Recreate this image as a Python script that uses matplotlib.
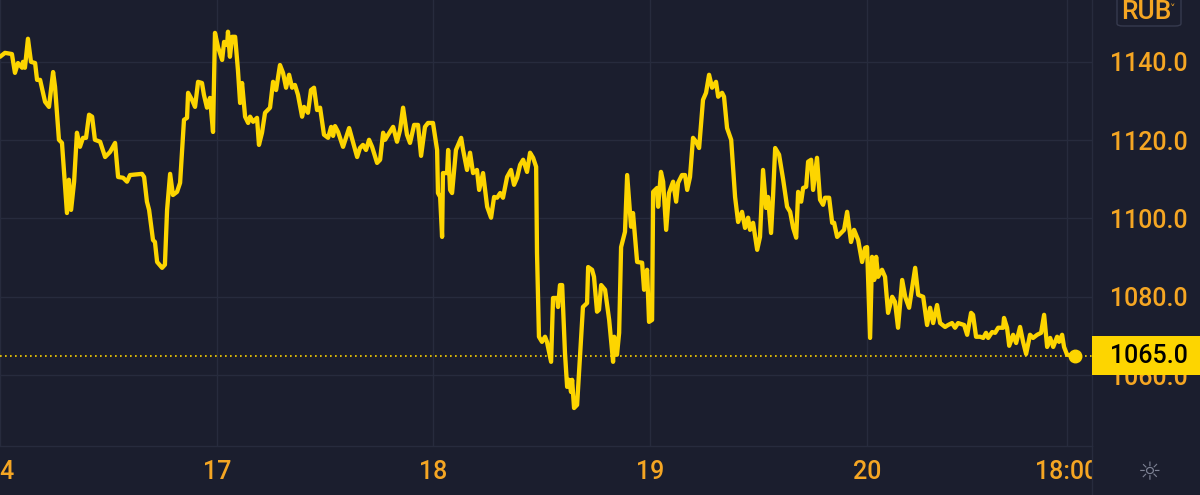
import matplotlib
matplotlib.use("Agg")
import matplotlib.pyplot as plt
from matplotlib.patches import Rectangle, FancyBboxPatch
from matplotlib.transforms import blended_transform_factory
from matplotlib.lines import Line2D

# time axis in trading sessions counted from the 14th (17 -> 1, 18 -> 2, ...)
t = [0.000, 0.023, 0.055, 0.069, 0.083, 0.102, 0.106, 0.115, 0.129, 0.143,
     0.162, 0.171, 0.185, 0.208, 0.226, 0.245, 0.254, 0.272, 0.286, 0.309,
     0.318, 0.328, 0.342, 0.355, 0.369, 0.383, 0.397, 0.411, 0.425, 0.438,
     0.462, 0.485, 0.508, 0.531, 0.545, 0.568, 0.586, 0.600, 0.655, 0.665,
     0.678, 0.688, 0.706, 0.715, 0.725, 0.748, 0.761, 0.771, 0.785, 0.798,
     0.817, 0.831, 0.849, 0.863, 0.868, 0.886, 0.900, 0.914, 0.932, 0.941,
     0.955, 0.969, 0.983, 0.992, 1.006, 1.025, 1.034, 1.048, 1.052, 1.061,
     1.071, 1.085, 1.098, 1.108, 1.117, 1.131, 1.145, 1.154, 1.168, 1.186,
     1.195, 1.209, 1.223, 1.246, 1.260, 1.274, 1.292, 1.306, 1.320, 1.334,
     1.348, 1.361, 1.375, 1.394, 1.403, 1.421, 1.435, 1.449, 1.463, 1.477,
     1.495, 1.514, 1.528, 1.537, 1.546, 1.560, 1.583, 1.611, 1.648, 1.661,
     1.675, 1.689, 1.703, 1.717, 1.740, 1.754, 1.768, 1.777, 1.791, 1.814,
     1.832, 1.846, 1.860, 1.878, 1.892, 1.911, 1.929, 1.943, 1.961, 1.975,
     1.998, 2.017, 2.021, 2.031, 2.040, 2.044, 2.063, 2.068, 2.077, 2.086,
     2.104, 2.128, 2.137, 2.155, 2.169, 2.183, 2.201, 2.211, 2.229, 2.248,
     2.266, 2.280, 2.294, 2.308, 2.321, 2.340, 2.358, 2.372, 2.386, 2.400,
     2.414, 2.432, 2.446, 2.460, 2.474, 2.478, 2.487, 2.501, 2.515, 2.524,
     2.543, 2.552, 2.571, 2.575, 2.584, 2.594, 2.607, 2.617, 2.626, 2.635,
     2.640, 2.649, 2.663, 2.690, 2.709, 2.714, 2.732, 2.741, 2.755, 2.764,
     2.774, 2.792, 2.811, 2.829, 2.834, 2.847, 2.857, 2.866, 2.884, 2.894,
     2.912, 2.921, 2.940, 2.963, 2.972, 2.986, 2.995, 3.009, 3.014, 3.032,
     3.037, 3.050, 3.060, 3.074, 3.087, 3.106, 3.120, 3.129, 3.147, 3.161,
     3.171, 3.184, 3.198, 3.212, 3.226, 3.244, 3.258, 3.272, 3.286, 3.304,
     3.314, 3.332, 3.341, 3.355, 3.374, 3.392, 3.406, 3.424, 3.438, 3.452,
     3.461, 3.475, 3.494, 3.507, 3.521, 3.535, 3.544, 3.558, 3.567, 3.577,
     3.595, 3.614, 3.632, 3.646, 3.660, 3.674, 3.683, 3.697, 3.706, 3.720,
     3.729, 3.743, 3.752, 3.770, 3.784, 3.798, 3.807, 3.826, 3.840, 3.849,
     3.863, 3.886, 3.895, 3.909, 3.927, 3.941, 3.960, 3.978, 3.992, 4.001,
     4.015, 4.024, 4.034, 4.043, 4.052, 4.070, 4.084, 4.098, 4.117, 4.130,
     4.144, 4.163, 4.177, 4.195, 4.223, 4.237, 4.260, 4.278, 4.292, 4.306,
     4.324, 4.338, 4.361, 4.375, 4.393, 4.407, 4.421, 4.449, 4.463, 4.481,
     4.490, 4.504, 4.523, 4.537, 4.550, 4.560, 4.578, 4.592, 4.606, 4.629,
     4.633, 4.647, 4.657, 4.675, 4.689, 4.707, 4.721, 4.735, 4.753, 4.767,
     4.786, 4.804, 4.818, 4.832, 4.846, 4.860, 4.878, 4.887, 4.901, 4.910,
     4.924, 4.952]

price = [1141.3, 1142.3, 1142.0, 1137.2, 1139.7, 1138.5, 1140.0, 1138.5, 1145.9, 1140.0,
         1139.7, 1135.4, 1135.4, 1129.8, 1128.5, 1137.4, 1133.6, 1120.1, 1119.3, 1101.4,
         1109.9, 1102.2, 1109.4, 1121.9, 1118.3, 1120.6, 1120.6, 1126.5, 1126.0, 1120.1,
         1119.6, 1115.7, 1117.0, 1119.3, 1110.6, 1110.4, 1109.4, 1111.1, 1111.4, 1110.6,
         1104.3, 1102.2, 1094.5, 1094.0, 1088.9, 1087.4, 1088.2, 1102.2, 1111.4, 1106.0,
         1106.8, 1109.1, 1125.2, 1125.7, 1132.1, 1130.3, 1128.5, 1134.9, 1134.6, 1131.6,
         1128.3, 1130.8, 1122.1, 1147.4, 1143.8, 1140.5, 1145.1, 1144.3, 1147.7, 1141.3,
         1146.4, 1146.4, 1137.9, 1129.5, 1134.6, 1126.0, 1124.4, 1126.0, 1124.7, 1125.7,
         1118.8, 1121.9, 1127.0, 1128.3, 1134.9, 1132.8, 1139.2, 1137.2, 1133.4, 1136.7,
         1133.4, 1134.1, 1131.6, 1126.0, 1128.5, 1127.0, 1132.8, 1133.4, 1127.7, 1128.3,
         1121.4, 1120.6, 1123.4, 1121.1, 1123.6, 1122.1, 1118.3, 1123.1, 1115.7, 1118.0,
         1118.8, 1117.5, 1120.1, 1118.3, 1114.2, 1115.0, 1121.9, 1120.1, 1121.4, 1123.4,
         1119.6, 1122.6, 1128.3, 1121.4, 1119.3, 1123.9, 1123.9, 1116.0, 1123.4, 1124.4,
         1124.4, 1117.5, 1106.5, 1105.5, 1095.3, 1111.6, 1111.6, 1117.5, 1107.3, 1106.5,
         1117.5, 1120.6, 1117.5, 1112.4, 1116.8, 1111.6, 1112.4, 1107.3, 1111.6, 1103.0,
         1100.2, 1105.5, 1105.3, 1106.5, 1105.3, 1110.6, 1112.4, 1108.6, 1110.4, 1113.7,
         1115.0, 1111.9, 1116.8, 1115.5, 1113.2, 1091.2, 1069.8, 1068.5, 1069.8, 1068.5,
         1063.4, 1079.7, 1079.7, 1077.4, 1083.0, 1083.0, 1065.7, 1057.0, 1058.8, 1055.7,
         1058.8, 1051.6, 1052.4, 1077.4, 1078.4, 1087.6, 1086.9, 1085.1, 1076.2, 1076.7,
         1083.0, 1081.8, 1074.1, 1063.4, 1069.8, 1065.2, 1070.8, 1092.7, 1096.6, 1111.1,
         1097.9, 1101.4, 1088.9, 1088.7, 1081.8, 1086.9, 1073.6, 1074.1, 1106.8, 1107.8,
         1103.0, 1111.9, 1109.4, 1097.1, 1106.5, 1109.4, 1104.3, 1109.1, 1111.1, 1111.1,
         1107.3, 1110.6, 1120.6, 1119.6, 1118.0, 1130.3, 1132.1, 1136.7, 1133.4, 1134.9,
         1131.1, 1132.1, 1131.1, 1123.1, 1120.1, 1105.5, 1099.1, 1101.7, 1097.6, 1100.2,
         1097.1, 1098.9, 1092.0, 1095.3, 1112.4, 1102.7, 1105.5, 1096.3, 1105.5, 1118.0,
         1116.3, 1109.9, 1103.0, 1101.7, 1097.6, 1095.1, 1106.8, 1104.3, 1107.8, 1108.1,
         1114.5, 1115.0, 1107.3, 1115.5, 1104.8, 1103.5, 1105.3, 1105.3, 1098.9, 1098.9,
         1095.3, 1096.6, 1097.1, 1101.7, 1094.0, 1097.1, 1094.5, 1088.9, 1092.5, 1092.7,
         1069.5, 1090.2, 1084.3, 1090.2, 1085.1, 1086.9, 1085.1, 1075.9, 1080.0, 1078.7,
         1072.1, 1084.3, 1080.0, 1077.2, 1087.4, 1080.5, 1080.0, 1072.8, 1077.2, 1073.3,
         1077.9, 1073.3, 1072.3, 1072.8, 1073.3, 1072.1, 1073.3, 1072.8, 1070.3, 1075.9,
         1075.4, 1069.8, 1069.8, 1069.5, 1070.8, 1069.5, 1071.0, 1070.8, 1072.1, 1072.1,
         1074.6, 1072.1, 1067.5, 1070.3, 1068.2, 1072.3, 1068.5, 1065.4, 1070.3, 1069.5,
         1070.3, 1070.8, 1075.4, 1067.2, 1069.5, 1067.2, 1069.8, 1068.5, 1070.3, 1067.2,
         1065.2, 1065.0]

last_price = 1065.0
currency = "RUB"
y_ticks = [1060, 1080, 1100, 1120, 1140]
x_ticks = [0, 1, 2, 3, 4, 4.924]
x_labels = ["14", "17", "18", "19", "20", "18:00"]

bg = "#1b1e2e"
grid_c = "#272b3d"
orange = "#f5a623"
yellow = "#fdd500"

plt.rcParams["font.family"] = ["Roboto", "DejaVu Sans"]

fig = plt.figure(figsize=(12, 4.95), dpi=100, facecolor=bg)
ax = fig.add_axes([0, 49 / 495, 1092 / 1200, 446 / 495], facecolor=bg)

ax.plot(t, price, color=yellow, lw=3.1, solid_joinstyle="round", solid_capstyle="round")
ax.plot(t[-1] + 0.01, price[-1], "o", ms=9, color=yellow)
ax.axhline(last_price, color=yellow, lw=1.2, ls=(0, (1, 2)))

ax.set_xlim(0, 5.039)
ax.set_ylim(1041.9, 1155.8)

ax.yaxis.tick_right()
ax.set_yticks(y_ticks)
ax.set_yticklabels([f"{v:.1f}" for v in y_ticks])
ax.set_xticks(x_ticks)
ax.set_xticklabels(x_labels)
ax.tick_params(axis="y", length=0, pad=13, labelsize=18, labelcolor=orange)
ax.tick_params(axis="x", length=0, pad=10, labelsize=18, labelcolor=orange)
for lab in ax.get_xticklabels() + ax.get_yticklabels():
    lab.set_fontweight("medium")

ax.grid(color=grid_c, lw=1)
for side in ["top", "left"]:
    ax.spines[side].set_visible(False)
for side in ["bottom", "right"]:
    ax.spines[side].set_color(grid_c)
    ax.spines[side].set_linewidth(1)

# corner panel under the price scale hides the end of the time labels
corner = fig.add_axes([1093 / 1200, 0, 107 / 1200, 48 / 495], zorder=10)
corner.set_axis_off()
corner.add_patch(Rectangle((0, 0), 1, 1, transform=corner.transAxes,
                           facecolor=bg, edgecolor="none"))
corner.text(0.53, 0.46, "☼", color="#7d8294", fontsize=19, ha="center", va="center",
            family=["DejaVu Sans"], transform=corner.transAxes)

# separator of the price scale down to the bottom
fig.add_artist(Line2D([1092 / 1200, 1092 / 1200], [0, 49 / 495], color=grid_c, lw=1, zorder=11))

# last price marker on the scale
tr = blended_transform_factory(fig.transFigure, ax.transData)
ax.add_patch(Rectangle((1092 / 1200, last_price - 5), 108 / 1200, 10, transform=tr,
                       facecolor=yellow, edgecolor="none", clip_on=False, zorder=5))
ax.text(1110 / 1200, last_price, f"{last_price:.1f}", transform=tr, color="black",
        fontsize=18, fontweight="medium", va="center", ha="left", zorder=6, clip_on=False)

# currency selector
fig.patches.append(FancyBboxPatch((1117 / 1200, 469 / 495), 64 / 1200, 40 / 495,
                                  boxstyle="round,pad=0,rounding_size=0.005",
                                  transform=fig.transFigure, facecolor="none",
                                  edgecolor="#363a4e", lw=1))
fig.text(1121 / 1200, 476 / 495, currency, color=orange, fontsize=19,
         fontweight="medium", ha="left", va="baseline")
fig.text(1173 / 1200, 486 / 495, "˅", color=orange, fontsize=8, ha="center", va="center",
         family=["DejaVu Sans"])

fig.savefig("out.png", dpi=100, facecolor=bg)
